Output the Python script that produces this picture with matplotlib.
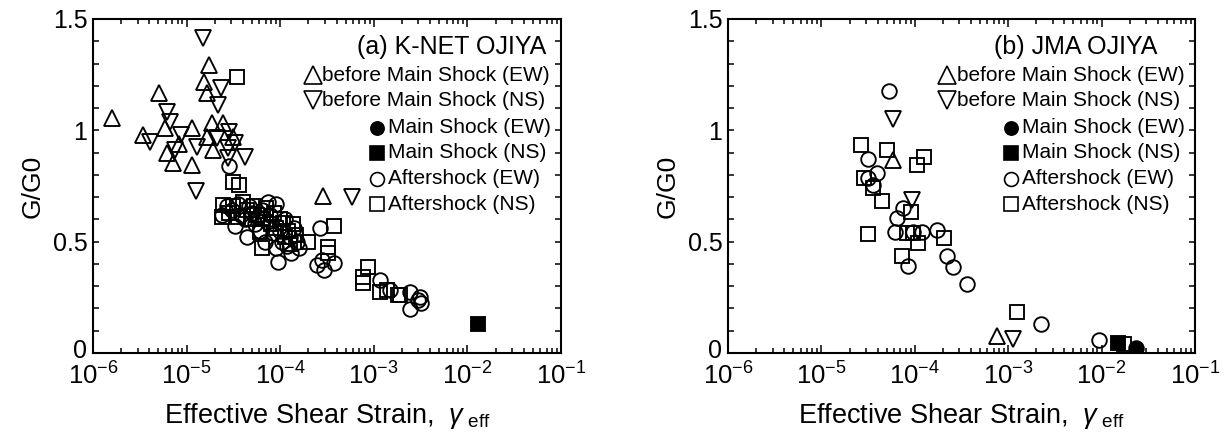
import numpy as np
import matplotlib
matplotlib.use('Agg')
import matplotlib.pyplot as plt
import matplotlib.transforms as mtransforms
from matplotlib.ticker import LogLocator, NullFormatter, MultipleLocator, FixedLocator, FuncFormatter

plt.rcParams['font.family'] = ['Liberation Sans', 'DejaVu Sans']
plt.rcParams['mathtext.fontset'] = 'custom'
plt.rcParams['mathtext.rm'] = 'Liberation Sans'
plt.rcParams['mathtext.it'] = 'Liberation Sans:italic'

# values are log10(strain), G/G0
# (a) K-NET OJIYA
a_before_ew_lx = [-5.794, -5.292, -5.463, -5.231, -5.213, -5.148, -4.946, -4.946, -4.757, -4.814,
                  -4.779, -4.732, -4.785, -4.714, -4.607, -4.501, -5.08, -3.546]
a_before_ew_g = [1.054, 1.166, 0.979, 1.009, 0.897, 0.852, 1.009, 0.844, 1.293, 1.218,
                 1.166, 1.031, 0.971, 0.911, 1.031, 0.971, 0.94, 0.705]
a_before_ns_lx = [-5.391, -5.206, -5.177, -5.124, -5.063, -4.886, -4.900, -4.636, -4.661, -4.544,
                  -4.483, -4.554, -4.554, -4.376, -4.678, -4.822, -3.236]
a_before_ns_g = [0.949, 1.084, 1.039, 0.911, 0.979, 0.927, 0.729, 1.189, 1.114, 0.994,
                 0.941, 0.919, 0.874, 0.882, 0.964, 1.413, 0.702]
a_main_ew_lx = []
a_main_ew_g = []
a_main_ns_lx = [-1.89]
a_main_ns_g = [0.129]
a_after_ew_lx = [-4.55, -4.62, -4.57, -4.52, -4.48, -4.45, -4.42, -4.38, -4.36, -4.33,
                 -4.30, -4.27, -4.24, -4.22, -4.19, -4.16, -4.14, -4.11, -4.08, -4.05,
                 -4.02, -4.00, -3.98, -3.95, -3.93, -3.90, -3.88, -3.85, -3.82, -3.80,
                 -3.575, -3.61, -3.53, -3.43, -3.557, -2.934, -2.827, -2.613, -2.613, -2.525,
                 -2.506, -2.50, -4.13, -4.05]
a_after_ew_g = [0.84, 0.62, 0.66, 0.64, 0.57, 0.67, 0.62, 0.60, 0.52, 0.66,
                0.63, 0.58, 0.61, 0.55, 0.64, 0.50, 0.59, 0.62, 0.54, 0.47,
                0.41, 0.55, 0.50, 0.60, 0.48, 0.52, 0.45, 0.56, 0.50, 0.47,
                0.56, 0.395, 0.373, 0.403, 0.418, 0.328, 0.283, 0.275, 0.196, 0.238,
                0.253, 0.223, 0.68, 0.67]
a_after_ns_lx = [-4.465, -4.501, -4.437, -4.625, -4.608, -4.55, -4.50, -4.45, -4.40, -4.35,
                 -4.31, -4.28, -4.25, -4.198, -4.216, -4.18, -4.15, -4.10, -4.07, -4.04,
                 -4.00, -3.967, -3.95, -3.92, -3.89, -3.86, -3.83, -3.70, -3.425, -3.493,
                 -3.49, -3.059, -3.119, -3.112, -2.934, -2.863, -2.738, -2.72]
a_after_ns_g = [1.238, 0.769, 0.754, 0.612, 0.665, 0.63, 0.66, 0.61, 0.68, 0.64,
                0.60, 0.66, 0.62, 0.470, 0.545, 0.60, 0.65, 0.58, 0.63, 0.56,
                0.60, 0.582, 0.52, 0.55, 0.49, 0.58, 0.53, 0.50, 0.570, 0.477,
                0.45, 0.388, 0.343, 0.313, 0.275, 0.283, 0.26, 0.26]

# (b) JMA OJIYA
b_before_ew_lx = [-4.23, -3.124]
b_before_ew_g = [0.867, 0.076]
b_before_ns_lx = [-4.237, -4.027, -2.952]
b_before_ns_g = [1.049, 0.687, 0.061]
b_main_ew_lx = [-1.635]
b_main_ew_g = [0.021]
b_main_ns_lx = [-1.821]
b_main_ns_g = [0.043]
b_after_ew_lx = [-4.276, -4.498, -4.408, -4.498, -4.444, -4.123, -4.194, -4.212, -4.069, -3.926,
                 -4.016, -3.759, -3.652, -3.588, -3.438, -2.649, -2.025]
b_after_ew_g = [1.178, 0.870, 0.807, 0.784, 0.754, 0.650, 0.605, 0.545, 0.391, 0.545,
                0.545, 0.552, 0.436, 0.388, 0.310, 0.130, 0.058]
b_after_ns_lx = [-4.579, -4.294, -3.901, -3.973, -4.544, -4.444, -4.354, -4.044, -4.498, -4.087,
                 -4.016, -3.962, -4.140, -3.687, -2.903, -1.760]
b_after_ns_g = [0.934, 0.912, 0.882, 0.844, 0.784, 0.740, 0.683, 0.635, 0.533, 0.537,
                0.537, 0.492, 0.436, 0.515, 0.183, 0.040]

legend_labels = ['before Main Shock (EW)', 'before Main Shock (NS)', 'Main Shock (EW)',
                 'Main Shock (NS)', 'Aftershock (EW)', 'Aftershock (NS)']

STYLES = [
    dict(marker='^', ms=11, mfc='none'),
    dict(marker='v', ms=11, mfc='none'),
    dict(marker='o', ms=10.5, mfc='k'),
    dict(marker='s', ms=10, mfc='k'),
    dict(marker='o', ms=10.5, mfc='none'),
    dict(marker='s', ms=10, mfc='none'),
]


def _draw_panel(ax, fig, series, title, title_x):
    # aftershocks first, main shock last (on top)
    for idx in [4, 5, 0, 1, 3, 2]:
        lx, g = series[idx]
        if len(lx) == 0:
            continue
        ax.plot(10.0 ** np.array(lx), g, linestyle='none', mec='k', mew=1.35, **STYLES[idx])

    ax.set_xscale('log')
    ax.set_xlim(1e-6, 1e-1)
    ax.set_ylim(0, 1.5)
    ax.xaxis.set_major_locator(LogLocator(base=10, numticks=10))
    ax.xaxis.set_minor_locator(LogLocator(base=10, subs=np.arange(2, 10), numticks=20))
    ax.xaxis.set_minor_formatter(NullFormatter())
    ax.yaxis.set_major_locator(FixedLocator([0, 0.5, 1, 1.5]))
    ax.yaxis.set_major_formatter(FuncFormatter(lambda v, p: '%g' % v))
    ax.yaxis.set_minor_locator(MultipleLocator(0.1))
    ax.tick_params(which='both', direction='in', top=True, right=True, width=1.1)
    ax.tick_params(axis='x', which='major', length=5.5, labelsize=18.5, pad=7)
    ax.tick_params(axis='x', which='minor', length=3.8)
    ax.tick_params(axis='y', which='both', length=4.3)
    ax.tick_params(axis='y', which='major', labelsize=18, pad=4)
    for sp in ax.spines.values():
        sp.set_linewidth(1.5)

    # lift the "0" a little so it clears the 10^-6 label below it
    zero_lbl = ax.yaxis.get_major_ticks()[0].label1
    zero_lbl.set_transform(zero_lbl.get_transform() +
                           mtransforms.ScaledTranslation(0, 3 / 72, fig.dpi_scale_trans))

    ax.set_xlabel(r'Effective Shear Strain,  $\gamma_{\mathrm{\ eff}}$', fontsize=19.5, labelpad=8)
    ax.set_ylabel('G/G0', fontsize=19, labelpad=6)

    ax.text(title_x, 0.916, title, transform=ax.transAxes, ha='right', va='center', fontsize=18)

    # legend drawn by hand: marker + left aligned text
    rows_y = [0.832, 0.756, 0.675, 0.599, 0.521, 0.445]
    mark_x = [0.470, 0.470, 0.606, 0.606, 0.606, 0.606]
    text_x = [0.490, 0.490, 0.630, 0.630, 0.630, 0.630]
    leg_ms = [12.5, 12.5, 9.5, 9.5, 10, 10]
    for i, lab in enumerate(legend_labels):
        st = dict(STYLES[i])
        st['ms'] = leg_ms[i]
        ax.plot([mark_x[i]], [rows_y[i]], transform=ax.transAxes, linestyle='none',
                mec='k', mew=1.2, clip_on=False, **st)
        ax.text(text_x[i], rows_y[i], lab, transform=ax.transAxes, ha='left', va='center',
                fontsize=15)


fig = plt.figure(figsize=(12.26, 4.32), dpi=100)
ax_a = fig.add_axes([93 / 1226, 79 / 432, 468 / 1226, 334 / 432])
ax_b = fig.add_axes([728 / 1226, 79 / 432, 467 / 1226, 334 / 432])

series_a = [(a_before_ew_lx, a_before_ew_g), (a_before_ns_lx, a_before_ns_g),
            (a_main_ew_lx, a_main_ew_g), (a_main_ns_lx, a_main_ns_g),
            (a_after_ew_lx, a_after_ew_g), (a_after_ns_lx, a_after_ns_g)]
series_b = [(b_before_ew_lx, b_before_ew_g), (b_before_ns_lx, b_before_ns_g),
            (b_main_ew_lx, b_main_ew_g), (b_main_ns_lx, b_main_ns_g),
            (b_after_ew_lx, b_after_ew_g), (b_after_ns_lx, b_after_ns_g)]

_draw_panel(ax_a, fig, series_a, '(a) K-NET OJIYA', 0.968)
_draw_panel(ax_b, fig, series_b, '(b) JMA OJIYA', 0.919)

fig.savefig('out.png', dpi=100)
